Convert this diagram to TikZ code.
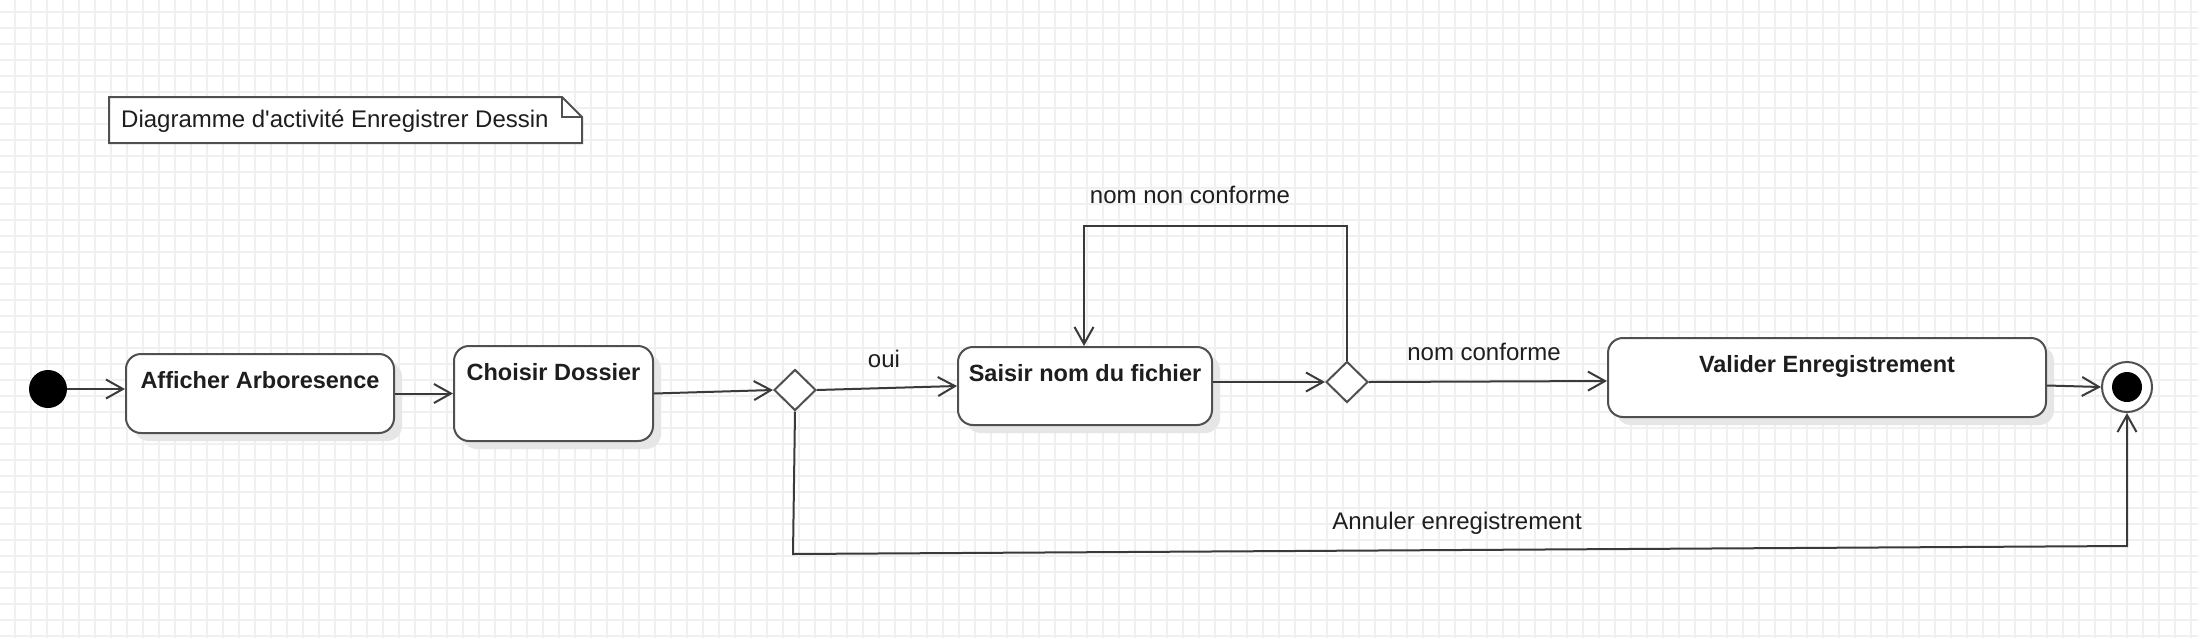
\documentclass[tikz,border=0pt]{standalone}
\usepackage{fontspec}
\setmainfont{Liberation Sans}
\usetikzlibrary{arrows.meta,shapes.geometric,shadows}
\definecolor{gridc}{HTML}{F0F0F0}
\definecolor{linec}{HTML}{3A3A3A}
\definecolor{boxc}{HTML}{505050}
\definecolor{shadowc}{HTML}{E6E6E6}
\definecolor{txtc}{HTML}{1E1E1E}
\tikzset{
  act/.style={draw=boxc, line width=2pt, fill=white, rounded corners=15pt,
    inner sep=0pt, text height=34pt, anchor=north west, text=txtc,
    font=\fontsize{23.5}{28}\selectfont\bfseries,
    drop shadow={shadow xshift=8pt, shadow yshift=-8pt, fill=shadowc, opacity=1}},
  decision/.style={diamond, draw=boxc, line width=2pt, fill=white, inner sep=0pt,
    minimum width=42pt, minimum height=41pt},
  initnode/.style={circle, fill=black, inner sep=0pt, minimum size=38pt},
  flow/.style={draw=linec, line width=2pt, -{Straight Barb[length=17pt,width=19pt]}},
  lbl/.style={anchor=base, text=txtc, inner sep=0pt, font=\fontsize{24}{28}\selectfont},
  gridline/.style={draw=gridc, line width=1.8pt}
}
\begin{document}
\begin{tikzpicture}[x=1pt,y=-1pt]
\useasboundingbox (0,0) rectangle (2198,638);
\fill[white] (0,0) rectangle (2198,638);
% background grid
\foreach \i in {0,...,137} \draw[gridline] ({15+16*\i},0) -- ({15+16*\i},638);
\foreach \j in {0,...,39} \draw[gridline] (0,{12+16*\j}) -- (2198,{12+16*\j});

% note
\draw[boxc, line width=2pt, fill=white] (109,97) -- (562,97) -- (582,117) -- (582,143) -- (109,143) -- cycle;
\draw[boxc, line width=2pt] (562,97) -- (562,117) -- (582,117);
\node[anchor=base west, text=txtc, inner sep=0pt, font=\fontsize{24}{28}\selectfont] (note) at (121,127)
  {Diagramme d\textquotesingle activité Enregistrer Dessin};

% nodes
\node[initnode] (init) at (48,389) {};
\node[act, minimum width=268pt, text depth=45pt] (afficher) at (125,353) {Afficher Arboresence};
\node[act, minimum width=199pt, text depth=61pt] (choisir) at (453,345) {Choisir Dossier};
\node[decision] (dec1) at (795,390) {};
\node[act, minimum width=254pt, text depth=44pt] (saisir) at (957,346) {Saisir nom du fichier};
\node[decision] (dec2) at (1347,382) {};
\node[act, minimum width=438pt, text depth=45pt] (valider) at (1607,337) {Valider Enregistrement};
\node[circle, draw=boxc, line width=2pt, fill=white, inner sep=0pt, minimum size=50pt] (final) at (2127,387) {};
\node[circle, fill=black, inner sep=0pt, minimum size=30pt] (finalin) at (2127,387) {};

% connectors
\draw[flow] (init.east) -- (afficher.west |- init.east);
\draw[flow] (afficher.east) -- (choisir.west |- afficher.east);
\draw[flow] (choisir.east) -- (dec1.west);
\draw[flow] (dec1.east) -- (saisir.west);
\draw[flow] (saisir.east |- dec2.west) -- (dec2.west);
\draw[flow] (dec2.east) -- ([yshift=-3.5pt]valider.west);
\draw[flow] ([yshift=-8pt]valider.east) -- (final.west);
\coordinate (loopc) at (1084,226);
\draw[flow] (dec2.north) |- (loopc) -- (loopc |- saisir.north);
\coordinate (botl) at (793,554);
\coordinate (botr) at (2127,546);
\draw[flow] (dec1.south) -- (botl) -- (botr) -- (final.south);

% labels
\node[lbl] (loui) at (884,367) {oui};
\node[lbl] (lnnc) at (1190,203) {nom non conforme};
\node[lbl] (lnc) at (1484,360) {nom conforme};
\node[lbl] (lann) at (1457,529) {Annuler enregistrement};
\end{tikzpicture}
\end{document}
